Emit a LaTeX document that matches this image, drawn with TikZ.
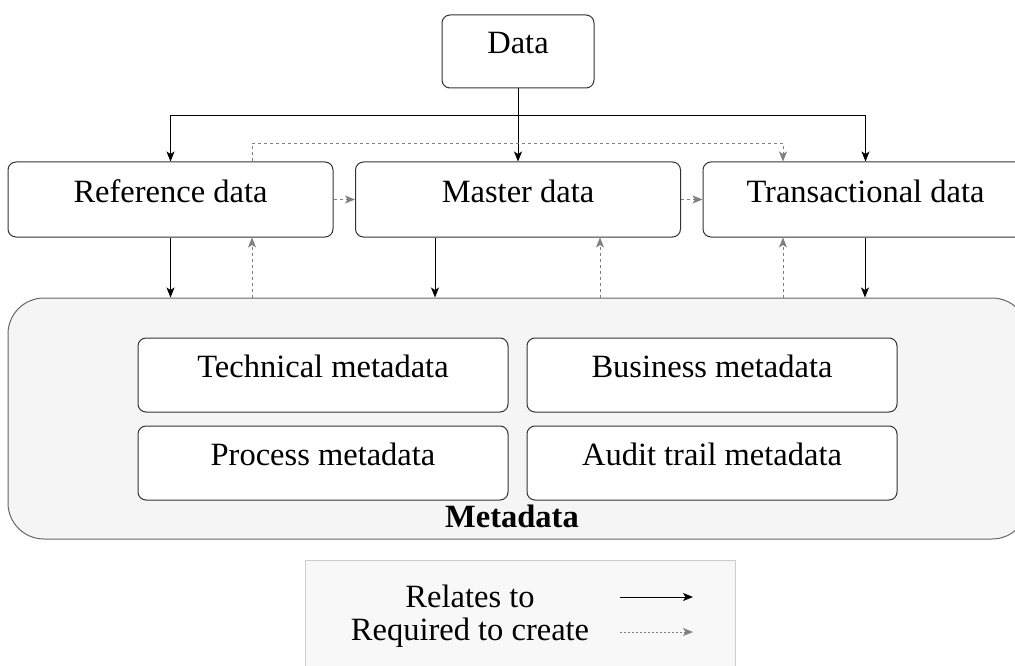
\documentclass[tikz,border=0pt]{standalone}
\usepackage{fontspec}
\setmainfont{Liberation Serif}
\usetikzlibrary{arrows.meta}
\definecolor{boxline}{HTML}{333333}
\definecolor{metaline}{HTML}{666666}
\definecolor{metafill}{HTML}{F5F5F5}
\definecolor{legendline}{HTML}{CCCCCC}
\definecolor{legendfill}{HTML}{F8F8F8}
\definecolor{reqline}{HTML}{808080}
\tikzset{
  txt/.style={font=\fontsize{32.5}{39}\selectfont},
  databox/.style={draw=boxline, line width=1pt, fill=white, rounded corners=8pt,
    inner sep=0pt, text height=24pt, text depth=19pt, txt},
  rel/.style={draw=black, line width=1pt,
    -{Stealth[length=10pt,width=8pt,inset=2.5pt]}},
  req/.style={draw=reqline, line width=1pt, dash pattern=on 3pt off 3pt,
    -{Stealth[length=10pt,width=8pt,inset=2.5pt]}},
}
\begin{document}
\begin{tikzpicture}[x=1pt,y=-1pt]
\useasboundingbox (0,0) rectangle (1015,666);
\clip (0,0) rectangle (1015,666);

% metadata container and its four kinds
\node[draw=metaline, line width=1pt, fill=metafill, rounded corners=36pt,
      minimum width=1020, minimum height=241, inner sep=0pt] (meta) at (518,418.5) {};
\node[txt, font=\fontsize{32.5}{39}\selectfont\bfseries, anchor=base] (metalabel) at (512,527) {Metadata};
\node[databox, minimum width=370, minimum height=74] (tech) at (323,375) {Technical metadata};
\node[databox, minimum width=370, minimum height=74] (bus) at (712,375) {Business metadata};
\node[databox, minimum width=370, minimum height=74] (proc) at (323,463) {Process metadata};
\node[databox, minimum width=370, minimum height=74] (audit) at (712,463) {Audit trail metadata};

% data and its three categories
\node[databox, minimum width=152, minimum height=73] (data) at (518,51.5) {Data};
\node[databox, minimum width=325, minimum height=75] (ref) at (170.5,199.5) {Reference data};
\node[databox, minimum width=325, minimum height=75] (master) at (518,199.5) {Master data};
\node[databox, minimum width=325, minimum height=75] (trans) at (865.5,199.5) {Transactional data};

% "relates to" links from data
\coordinate (split) at (518,116);
\draw[rel] (data.south) -- (master.north);
\draw[rel] (split) -| (ref.north);
\draw[rel] (split) -| (trans.north);

% "required to create" links between categories
\draw[req] ([xshift=81.5pt]ref.north) -- ++(0,-18) -| ([xshift=-82.5pt]trans.north);
\draw[req] (ref.east) -- (master.west);
\draw[req] (master.east) -- (trans.west);

% links between categories and metadata
\draw[rel] (ref.south) -- (ref.south |- meta.north);
\draw[req] ([xshift=81.5pt]ref.south |- meta.north) -- ([xshift=81.5pt]ref.south);
\draw[rel] ([xshift=-83pt]master.south) -- ([xshift=-83pt]master.south |- meta.north);
\draw[req] ([xshift=82pt]master.south |- meta.north) -- ([xshift=82pt]master.south);
\draw[rel] ([xshift=-0.5pt]trans.south) -- ([xshift=-0.5pt]trans.south |- meta.north);
\draw[req] ([xshift=-82.5pt]trans.south |- meta.north) -- ([xshift=-82.5pt]trans.south);

% legend
\node[draw=legendline, line width=1pt, fill=legendfill, minimum width=430,
      minimum height=130, inner sep=0pt] (legend) at (520,625) {};
\node[txt, anchor=base] (lrel) at (470,607) {Relates to};
\node[txt, anchor=base] (lreq) at (470,640) {Required to create};
\coordinate (lrels) at (620,597);
\coordinate (lrele) at (693,597);
\coordinate (lreqs) at (620,632);
\coordinate (lreqe) at (693,632);
\draw[rel] (lrels) -- (lrele);
\draw[req, dash pattern=on 2pt off 2pt] (lreqs) -- (lreqe);
\end{tikzpicture}
\end{document}
